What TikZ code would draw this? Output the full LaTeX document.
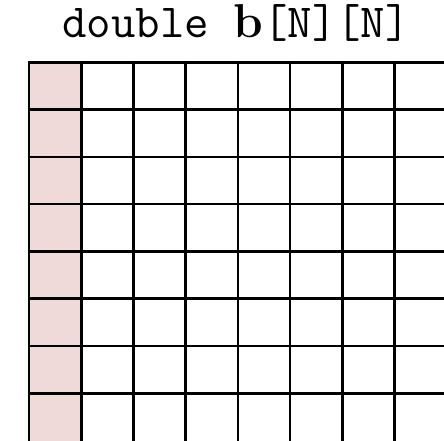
\documentclass[tikz,border=0pt]{standalone}
\usepackage{tikz}
\usetikzlibrary{calc}
\definecolor{cellshade}{RGB}{239,217,217}
\tikzset{
  every picture/.style={x=1pt, y=1pt},
  gline/.style={black, line width=2.6pt},
  gshade/.style={fill=cellshade, draw=none},
  gtitle/.style={anchor=base, inner sep=0pt,
                 font=\fontsize{47.5}{52}\selectfont\ttfamily},
}
\newcommand{\cw}{52.2}  % cell width
\newcommand{\ch}{47.3}  % cell height
\newcommand{\arrname}{{\rmfamily\bfseries b}}

\begin{document}
\begin{tikzpicture}
  \useasboundingbox (0,0) rectangle (444,441);
  \clip (0,0) rectangle (444,441);
  \node[gtitle] (title) at (236,403) {double \arrname[N][N]};
  \coordinate (top) at (29,378.7);
  % first column shaded
  \fill[gshade] (top) rectangle ++(\cw,-400);
  % rows
  \foreach \k in {0,...,7}
    \draw[gline] ($(top)+(-1.3,-\k*\ch)$) -- ++(430,0);
  % columns
  \foreach \k in {0,...,7}
    \draw[gline] ($(top)+(\k*\cw,1.3)$) -- ++(0,-400);
\end{tikzpicture}
\end{document}
